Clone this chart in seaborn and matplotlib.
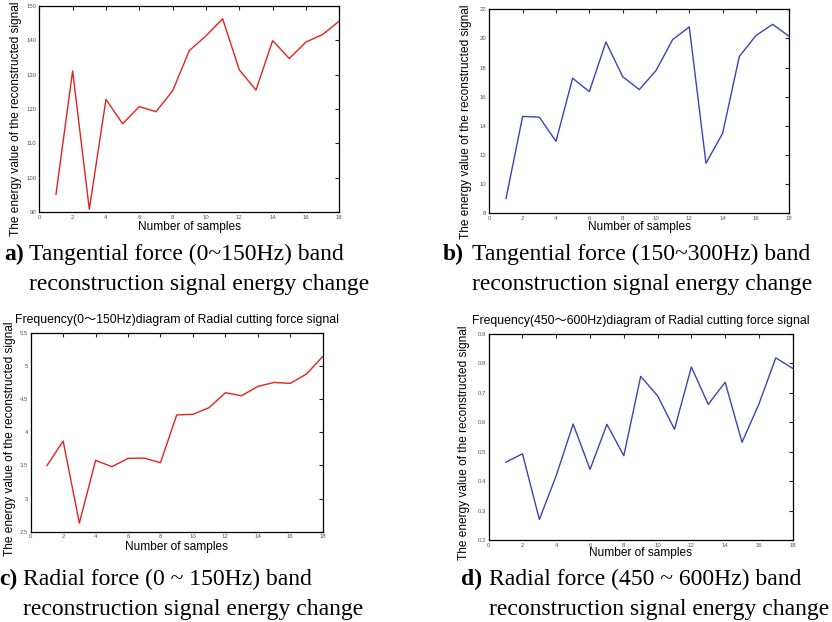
import matplotlib
matplotlib.use("Agg")
import matplotlib.pyplot as plt
import numpy as np
import pandas as pd
import seaborn as sns

# sample number 1..18
samples = list(range(1, 19))

# a) tangential force 0~150Hz
tan_low = [95.1, 131.1, 90.8, 122.8, 115.7, 120.7, 119.2, 125.3, 137.0,
           141.3, 146.3, 131.4, 125.5, 139.9, 134.7, 139.5, 141.7, 145.6]
# b) tangential force 150~300Hz
tan_mid = [9.0, 14.65, 14.6, 12.94, 17.27, 16.35, 19.76, 17.38, 16.49,
           17.79, 19.92, 20.79, 11.43, 13.49, 18.76, 20.2, 20.97, 20.13]
# c) radial force 0~150Hz
rad_low = [3.495, 3.867, 2.63, 3.575, 3.48, 3.605, 3.61, 3.54, 4.26,
           4.27, 4.37, 4.595, 4.55, 4.69, 4.75, 4.736, 4.877, 5.14]
# d) radial force 450~600Hz
rad_high = [0.464, 0.493, 0.270, 0.419, 0.594, 0.440, 0.593, 0.4865, 0.756,
            0.690, 0.576, 0.788, 0.661, 0.736, 0.532, 0.662, 0.819, 0.783]

y_label = "The energy value of the reconstructed signal"
x_label = "Number of samples"
x_ticks = list(range(0, 19, 2))

RED = "#e2231f"
BLUE = "#3a45b2"

sns.set_style("white")
plt.rcParams["font.family"] = ["Liberation Sans", "Noto Sans CJK SC"]
plt.rcParams["text.color"] = "black"
plt.rcParams["axes.labelcolor"] = "black"

W, H = 832, 622
fig = plt.figure(figsize=(W / 100, H / 100), dpi=100)


def px_axes(left, top, right, bottom):
    return fig.add_axes([left / W, 1 - bottom / H, (right - left) / W, (bottom - top) / H])


def draw_panel(ax, y, color, ylim, ystep, ylab_xy, xlab_y, title=None):
    df = pd.DataFrame({"sample": samples, "energy": y})
    sns.lineplot(data=df, x="sample", y="energy", color=color, linewidth=1.0, ax=ax)
    ax.set_xlim(0, 18)
    ax.set_ylim(*ylim)
    ax.set_xticks(x_ticks)
    yt = np.round(np.arange(ylim[0], ylim[1] + ystep / 2, ystep), 3)
    ax.set_yticks(yt)
    ax.set_yticklabels([f"{v:g}" for v in yt])
    ax.tick_params(direction="in", top=True, right=True, length=3, width=0.8,
                   labelsize=4.3, labelcolor="#555555", pad=2)
    for s in ax.spines.values():
        s.set_color("black")
        s.set_linewidth(0.9)
    ax.set_ylabel(y_label, fontsize=8.6, va="center")
    ax.yaxis.set_label_coords(*ylab_xy)
    ax.set_xlabel(x_label, fontsize=8.6, va="center")
    ax.xaxis.set_label_coords(0.5, xlab_y)
    if title:
        ax.set_title(title, fontsize=8.8, pad=7)


ax_a = px_axes(39.3, 6, 339.3, 212)
draw_panel(ax_a, tan_low, RED, (90, 150), 10, (-0.078, 0.454), -0.073)

ax_b = px_axes(489.3, 9.3, 789.3, 213.3)
draw_panel(ax_b, tan_mid, BLUE, (8, 22), 2, (-0.078, 0.45), -0.067)

ax_c = px_axes(30.7, 332.7, 322.7, 531.7)
draw_panel(ax_c, rad_low, RED, (2.5, 5.5), 0.5, (-0.071, 0.466), -0.077,
           title="Frequency(0\uff5e150Hz)diagram of Radial cutting force signal")

ax_d = px_axes(488.7, 334, 792.7, 540)
draw_panel(ax_d, rad_high, BLUE, (0.2, 0.9), 0.1, (-0.081, 0.471), -0.063,
           title="Frequency(450\uff5e600Hz)diagram of Radial cutting force signal")

# captions under each panel
captions = [
    ("a)", 4, 29, 260, "Tangential force (0~150Hz) band"),
    ("b)", 443, 472, 260, "Tangential force (150~300Hz) band"),
    ("c)", -1, 22.7, 585, "Radial force (0 ~ 150Hz) band"),
    ("d)", 461, 489, 585, "Radial force (450 ~ 600Hz) band"),
]
for tag, x_tag, x_txt, base, line1 in captions:
    fig.text(x_tag / W, 1 - base / H, tag, fontsize=17, fontweight="bold",
             family="Liberation Serif", va="baseline", ha="left", color="black")
    fig.text(x_txt / W, 1 - base / H, line1, fontsize=17, color="black",
             family="Liberation Serif", va="baseline", ha="left")
    fig.text(x_txt / W, 1 - (base + 30) / H, "reconstruction signal energy change",
             fontsize=17, family="Liberation Serif", va="baseline", ha="left", color="black")

fig.savefig("out.png", dpi=100)
